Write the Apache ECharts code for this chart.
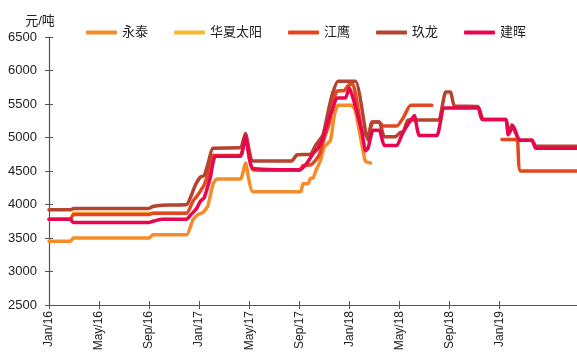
<!DOCTYPE html>
<html>
<head>
<meta charset="utf-8">
<script src="https://cdn.jsdelivr.net/npm/echarts@6/dist/echarts.min.js"></script>
<style>
  html, body { margin: 0; padding: 0; background: #fff; }
  #chart { width: 577px; height: 359px; }
</style>
</head>
<body>
<div id="chart"></div>
<script>
// Paper price per mill, 元/吨. Each point: [months since Jan 2016, price].
const seriesNames = ['永泰', '华夏太阳', '江鹰', '玖龙', '建晖'];
const seriesColors = ['#F68B2A', '#FBB829', '#E2471D', '#B5432F', '#E8064F'];

// x-axis ticks every 4 months starting Jan 2016
const tickLabels = ['Jan/16', 'May/16', 'Sep/16', 'Jan/17', 'May/17', 'Sep/17',
                    'Jan/18', 'May/18', 'Sep/18', 'Jan/19'];
const tickMonths = tickLabels.map((_, i) => i * 4);

const yongtai = [
  [0, 3450], [1.7, 3450], [1.95, 3500], [8.0, 3500], [8.3, 3550], [11.0, 3550],
  [11.5, 3770], [11.9, 3850], [12.3, 3880], [12.7, 3980], [13.1, 4300], [13.4, 4380],
  [15.3, 4380], [15.7, 4620], [16.3, 4190], [20.1, 4190], [20.3, 4310], [20.7, 4310],
  [20.9, 4390], [21.1, 4390], [21.3, 4490], [21.7, 4660], [22.0, 4860], [22.5, 4960],
  [22.8, 5330], [23.1, 5480], [24.2, 5480], [24.5, 5390], [25.0, 4900], [25.3, 4640],
  [25.7, 4620]
];

const huaxiaTaiyang = [
  [1.95, 3870], [11.0, 3870]
];

const jiangying = [
  [0, 3780], [1.7, 3780], [1.95, 3850], [8.0, 3850], [8.3, 3870], [11.0, 3870],
  [11.5, 4050], [11.8, 4120], [12.1, 4200], [12.4, 4290], [12.7, 4450], [13.1, 4730],
  [15.3, 4730], [15.7, 5040], [16.3, 4520], [20.0, 4510], [20.3, 4580], [20.9, 4590],
  [21.3, 4660], [21.6, 4740], [22.0, 4990], [22.4, 5210], [22.7, 5540], [23.0, 5690],
  [23.6, 5700], [24.0, 5790], [24.3, 5790], [25.0, 5110], [25.3, 5040], [25.5, 5040],
  [25.9, 5230], [26.4, 5230], [26.7, 5170], [27.8, 5170], [28.3, 5290], [28.9, 5480],
  [30.6, 5480], [33.0, null],
  [36.2, 4970], [37.4, 4970], [37.7, 4500], [42.2, 4500]
];

const jiulong = [
  [0, 3920], [1.7, 3920], [1.95, 3940], [8.0, 3940], [8.3, 3970], [9.0, 3990],
  [11.0, 4000], [11.4, 4150], [11.7, 4290], [12.1, 4410], [12.4, 4430], [12.7, 4600],
  [13.1, 4840], [15.3, 4850], [15.7, 5060], [16.3, 4650], [19.4, 4650], [19.8, 4740],
  [20.9, 4750], [21.3, 4880], [21.9, 5040], [22.2, 5290], [22.6, 5620], [23.1, 5840],
  [24.5, 5840], [25.3, 5090], [25.5, 4960], [25.8, 5230], [26.4, 5230], [26.8, 5010],
  [27.7, 5010], [28.1, 5080], [28.3, 5080], [28.7, 5260], [31.1, 5260], [31.7, 5680],
  [32.1, 5680], [32.4, 5470], [34.3, 5460], [34.7, 5270], [36.5, 5270], [36.7, 5060],
  [37.0, 5190], [37.6, 4960], [38.6, 4960], [38.9, 4870], [42.2, 4870]
];

const jianhui = [
  [0, 3780], [1.7, 3780], [1.95, 3730], [8.0, 3730], [8.3, 3750], [9.0, 3780],
  [11.0, 3780], [11.3, 3840], [11.8, 3940], [12.1, 4050], [12.4, 4100], [12.9, 4410],
  [13.3, 4720], [15.3, 4720], [15.7, 5020], [16.3, 4540], [20.1, 4520], [20.7, 4640],
  [21.1, 4760], [21.5, 4840], [21.9, 4990], [22.2, 5190], [22.7, 5440], [23.0, 5590],
  [23.7, 5590], [24.0, 5740], [24.3, 5590], [25.0, 5090], [25.3, 4800], [25.5, 4840],
  [25.9, 5110], [26.4, 5110], [26.8, 4880], [27.8, 4880], [28.2, 5040], [28.7, 5200],
  [29.2, 5330], [29.6, 5030], [31.0, 5030], [31.6, 5440], [34.3, 5440], [34.6, 5270],
  [36.5, 5270], [36.7, 5040], [37.1, 5170], [37.6, 4960], [38.6, 4960], [38.9, 4840],
  [42.2, 4840]
];

const seriesData = [yongtai, huaxiaTaiyang, jiangying, jiulong, jianhui];

const FONT = '"Liberation Sans", Arial, "Noto Sans CJK SC", sans-serif';
const axisColor = '#555';

function xAxisBase() {
  return {
    type: 'value', min: 0, max: 42.2, interval: 4, position: 'bottom',
    splitLine: { show: false }
  };
}
function yAxisBase() {
  return {
    type: 'value', min: 2500, max: 6500, interval: 500, position: 'left',
    splitLine: { show: false }
  };
}

const chart = echarts.init(document.getElementById('chart'), null, { renderer: 'canvas' });
chart.setOption({
  animation: false,
  textStyle: { fontFamily: FONT },
  grid: { left: 49, right: 0, top: 37, bottom: 54, containLabel: false },
  legend: {
    left: 81, top: 21, itemWidth: 31, itemHeight: 4, itemGap: 26,
    icon: 'roundRect',
    textStyle: { fontSize: 13, color: '#222', fontFamily: FONT },
    data: seriesNames
  },
  xAxis: [
    Object.assign(xAxisBase(), {
      axisLine: { show: true, lineStyle: { color: axisColor, width: 1.2 } },
      axisTick: { show: true, inside: false, length: 4, customValues: tickMonths,
                  lineStyle: { color: axisColor } },
      axisLabel: {
        rotate: 90, fontSize: 12, color: '#222', margin: 6, fontFamily: FONT,
        customValues: tickMonths,
        formatter: v => tickLabels[Math.round(v / 4)] || ''
      }
    }),
    Object.assign(xAxisBase(), {
      axisLine: { show: false },
      axisTick: { show: true, inside: true, length: 4, customValues: tickMonths,
                  lineStyle: { color: axisColor } },
      axisLabel: { show: false }
    })
  ],
  yAxis: [
    Object.assign(yAxisBase(), {
      name: '元/吨', nameLocation: 'end', nameGap: 9,
      nameTextStyle: { fontSize: 13, color: '#222', padding: [0, 18, 0, 0], fontFamily: FONT },
      axisLine: { show: true, lineStyle: { color: axisColor, width: 1.2 } },
      axisTick: { show: true, inside: false, length: 4, lineStyle: { color: axisColor } },
      axisLabel: { fontSize: 13, color: '#222', margin: 12, fontFamily: FONT,
                   formatter: v => String(v) }
    }),
    Object.assign(yAxisBase(), {
      axisLine: { show: false },
      axisTick: { show: true, inside: true, length: 4, lineStyle: { color: axisColor } },
      axisLabel: { show: false }
    })
  ],
  series: seriesNames.map((name, i) => ({
    name: name,
    type: 'line',
    xAxisIndex: 0,
    yAxisIndex: 0,
    data: seriesData[i],
    showSymbol: false,
    symbol: 'none',
    connectNulls: false,
    smooth: 0.15,
    color: seriesColors[i],
    lineStyle: { width: 3.5, color: seriesColors[i], cap: 'round', join: 'round' },
    z: 2 + i
  }))
});
</script>
</body>
</html>
